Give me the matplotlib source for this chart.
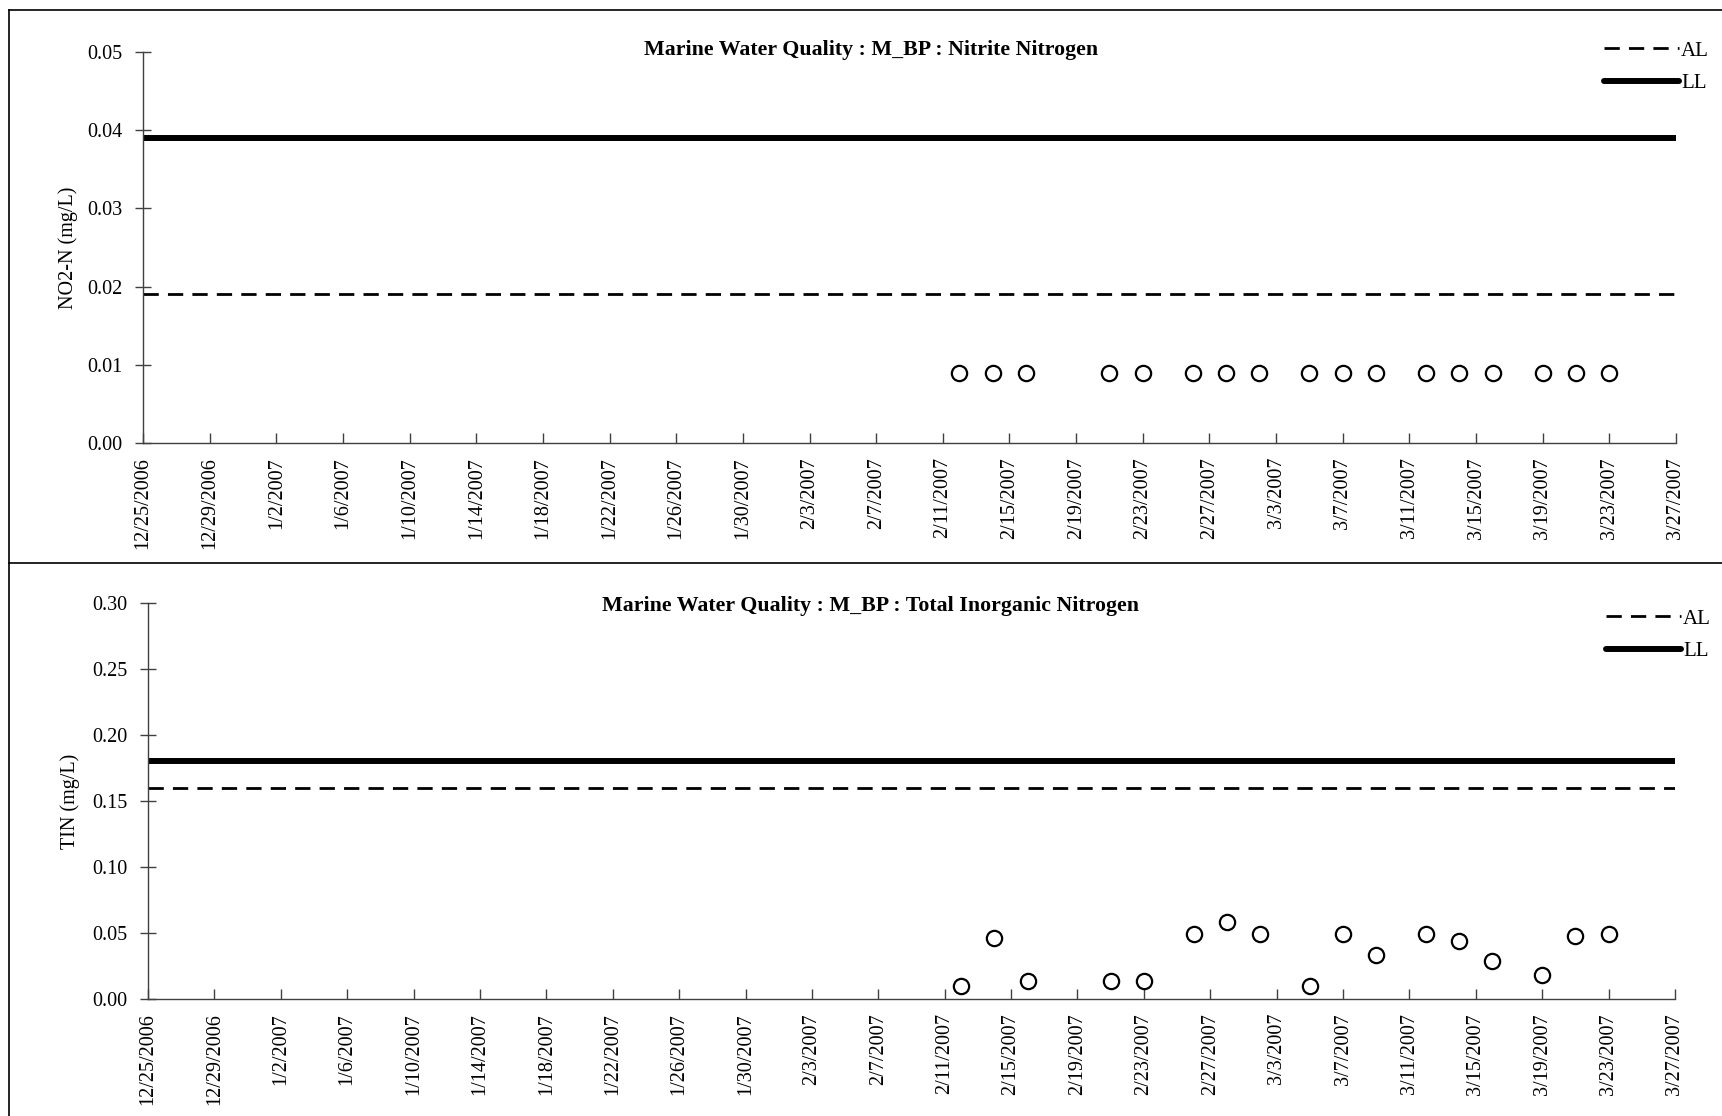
import matplotlib
matplotlib.use("Agg")
import matplotlib.pyplot as plt
import matplotlib.ticker as mticker
from matplotlib.lines import Line2D
import pandas as pd

plt.rcParams['font.family'] = ['Liberation Serif', 'DejaVu Serif']

# sampling dates and measured values
sample_dates = ['2007-02-12', '2007-02-14', '2007-02-16', '2007-02-21', '2007-02-23',
                '2007-02-26', '2007-02-28', '2007-03-02', '2007-03-05', '2007-03-07',
                '2007-03-09', '2007-03-12', '2007-03-14', '2007-03-16', '2007-03-19',
                '2007-03-21', '2007-03-23']
no2_vals = [0.009, 0.009, 0.009, 0.009, 0.009, 0.009, 0.009, 0.009, 0.009,
            0.009, 0.009, 0.009, 0.009, 0.009, 0.009, 0.009, 0.009]
tin_vals = [0.010, 0.046, 0.014, 0.014, 0.014, 0.049, 0.058, 0.049, 0.010,
            0.049, 0.033, 0.049, 0.044, 0.029, 0.018, 0.048, 0.049]

# action level / limit level
limit_dates = ['2006-12-25', '2007-03-27']
no2_al = [0.019, 0.019]
no2_ll = [0.039, 0.039]
tin_al = [0.16, 0.16]
tin_ll = [0.18, 0.18]

no2_ticks = [0.00, 0.01, 0.02, 0.03, 0.04, 0.05]
tin_ticks = [0.00, 0.05, 0.10, 0.15, 0.20, 0.25, 0.30]

titles = ['Marine Water Quality : M_BP : Nitrite Nitrogen',
          'Marine Water Quality : M_BP : Total Inorganic Nitrogen']
ylabels = ['NO2-N (mg/L)', 'TIN (mg/L)']

x = pd.to_datetime(sample_dates)
xl = pd.to_datetime(limit_dates)
xticks = pd.date_range(limit_dates[0], limit_dates[1], freq='4D')

W, H = 1722, 1116
fig = plt.figure(figsize=(W / 100, H / 100), dpi=100)

# axes boxes in pixels: left, right, top, bottom
boxes = [(143, 1676, 52, 443), (148, 1675, 603, 999)]
legend_pos = [(1604, 41), (1606, 609)]
title_y = [50, 606]
ylabel_x = [78, 80]

series = [(no2_vals, no2_al, no2_ll, no2_ticks), (tin_vals, tin_al, tin_ll, tin_ticks)]
spine_c = '#404040'

for i, (vals, al, ll, yt) in enumerate(series):
    l, r, t, b = boxes[i]
    ax = fig.add_axes([l / W, 1 - b / H, (r - l) / W, (b - t) / H])

    ax.plot(xl, al, color='black', lw=2.0, dashes=(5.5, 3.3), label='AL')
    ax.plot(xl, ll, color='black', lw=4.3, solid_capstyle='round', label='LL')
    ax.plot(x, vals, 'o', ms=11, mfc='none', mec='black', mew=1.6, zorder=5)

    ax.set_xlim(xl[0], xl[1])
    ax.set_ylim(yt[0], yt[-1])
    ax.set_yticks(yt)
    ax.yaxis.set_major_formatter(mticker.FormatStrFormatter('%.2f'))
    ax.set_xticks(xticks)
    ax.set_xticklabels([f"{d.month}/{d.day}/{d.year}" for d in xticks], rotation=90)

    for s in ['top', 'right']:
        ax.spines[s].set_visible(False)
    for s in ['left', 'bottom']:
        ax.spines[s].set_color(spine_c)
        ax.spines[s].set_linewidth(1.0)
    ax.tick_params(axis='y', direction='inout', length=12, width=1, color=spine_c,
                   labelsize=14.5, pad=9)
    ax.tick_params(axis='x', direction='in', length=7, width=1, color=spine_c,
                   labelsize=14.5, pad=10)

    ax.set_ylabel(ylabels[i], fontsize=14.5)
    ax.yaxis.set_label_coords((ylabel_x[i] - l) / (r - l), 0.5)

    fig.text(871 / W, 1 - title_y[i] / H, titles[i], ha='center', va='center',
             fontsize=15.75, fontweight='bold')

    lx, ly = legend_pos[i]
    ax.legend(loc='upper left', bbox_to_anchor=(lx / W, 1 - ly / H),
              bbox_transform=fig.transFigure, frameon=False, fontsize=15,
              handlelength=3.6, handletextpad=0.1, labelspacing=0.62,
              borderpad=0, borderaxespad=0)

# outer frame and separator
fig.add_artist(Line2D([9 / W, 1], [1 - 10 / H, 1 - 10 / H], color='black', lw=1.2))
fig.add_artist(Line2D([9 / W, 9 / W], [0, 1 - 10 / H], color='black', lw=1.2))
fig.add_artist(Line2D([9 / W, 1], [1 - 563 / H, 1 - 563 / H], color='black', lw=1.2))

fig.savefig('out.png', dpi=100)
